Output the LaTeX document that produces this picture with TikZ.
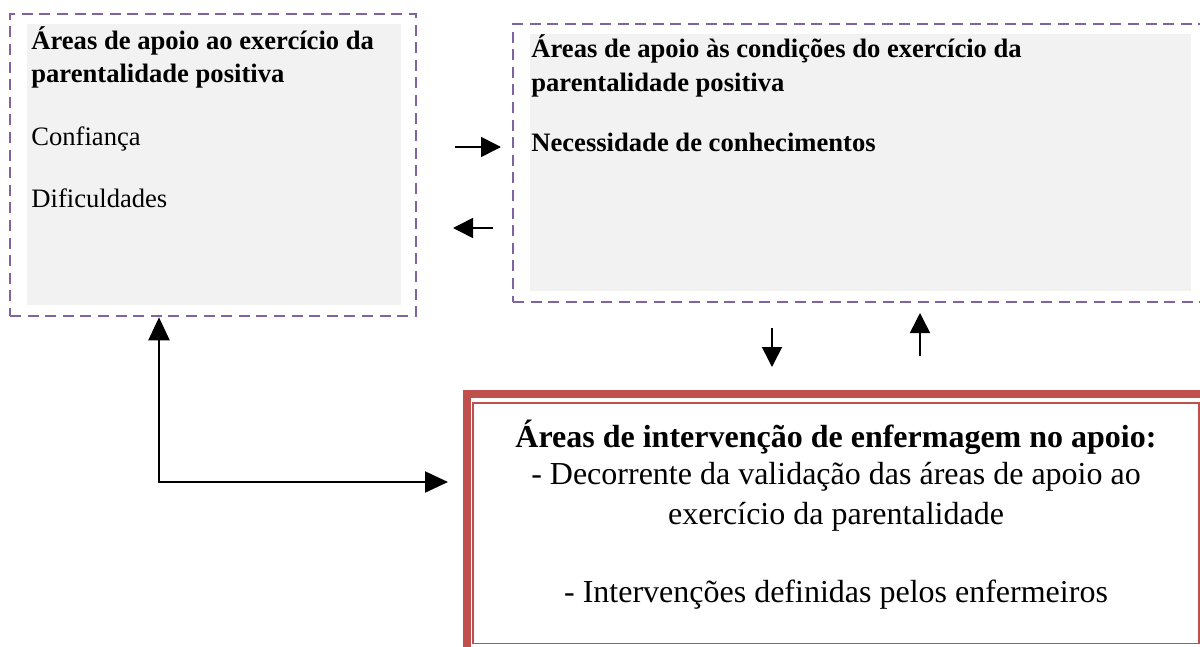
\documentclass[tikz,border=0pt]{standalone}
\usepackage{fontspec}
\setmainfont{Liberation Serif}
\usetikzlibrary{arrows.meta, positioning, fit}
\definecolor{boxPurple}{RGB}{128, 100, 162}
\definecolor{boxRed}{RGB}{192, 80, 77}
\definecolor{boxGray}{RGB}{242, 242, 242}
\tikzset{
    dashbox/.style={draw=boxPurple, line width=1.3pt, dash pattern=on 5.5pt off 3.3pt, inner sep=0pt},
    graybox/.style={fill=boxGray, inner sep=0pt},
    redbox/.style={draw=boxRed, inner sep=0pt},
    txt/.style={anchor=base west, inner sep=0pt, font=\fontsize{13.3}{16}\selectfont},
    bigtxt/.style={anchor=base, inner sep=0pt, font=\fontsize{16}{19}\selectfont},
    arr/.style={-{Triangle[length=10pt, width=10pt]}, line width=0.8pt},
    bigarr/.style={{Triangle[length=11.5pt, width=10.5pt]}-{Triangle[length=11.5pt, width=10.5pt]}, line width=1.1pt}
}

\begin{document}
\begin{tikzpicture}[x=0.5pt, y=-0.5pt]
    \clip (0,0) rectangle (1200,647);

    % left box: areas de apoio ao exercicio
    \node[graybox, fit={(27,24) (401,305)}] (apoioFill) {};
    \node[dashbox, fit={(10,14) (416,316)}] (apoio) {};
    \node[txt] (apoioTit1) at (31,50) {\textbf{Áreas de apoio ao exercício da}};
    \node[txt] (apoioTit2) at (31,83) {\textbf{parentalidade positiva}};
    \node[txt] (apoioConf) at (31,146) {Confiança};
    \node[txt] (apoioDif) at (31,207) {Dificuldades};

    % right box: areas de apoio as condicoes
    \node[graybox, fit={(530,34) (1191,291)}] (condFill) {};
    \node[dashbox, fit={(513,24) (1215,302)}] (cond) {};
    \node[txt] (condTit1) at (531,58) {\textbf{Áreas de apoio às condições do exercício da}};
    \node[txt] (condTit2) at (531,92) {\textbf{parentalidade positiva}};
    \node[txt] (condNec) at (531,152) {\textbf{Necessidade de conhecimentos}};

    % bottom box: intervencao de enfermagem
    \node[redbox, line width=4pt, fit={(466.5,394) (1220,660)}] (interv) {};
    \node[redbox, line width=0.75pt, fit={(473,403) (1199,643.5)}] (intervIn) {};
    \node[bigtxt] (intervTit) at (836,447) {\textbf{Áreas de intervenção de enfermagem no apoio:}};
    \node[bigtxt] (intervL1) at (836,484) {- Decorrente da validação das áreas de apoio ao};
    \node[bigtxt] (intervL2) at (836,524) {exercício da parentalidade};
    \node[bigtxt] (intervL3) at (836,602) {- Intervenções definidas pelos enfermeiros};

    % small arrows between the boxes
    \coordinate (dirIni) at (455,147);
    \coordinate (dirFim) at (501,147);
    \coordinate (esqIni) at (493,228);
    \coordinate (esqFim) at (453,228);
    \coordinate (baixoIni) at (772,328);
    \coordinate (baixoFim) at (772,367);
    \coordinate (cimaIni) at (920,356);
    \coordinate (cimaFim) at (920,313);
    \draw[arr] (dirIni) -- (dirFim);
    \draw[arr] (esqIni) -- (esqFim);
    \draw[arr] (baixoIni) -- (baixoFim);
    \draw[arr] (cimaIni) -- (cimaFim);

    % link from left box to the intervention box
    \coordinate (canto) at (159,482);
    \draw[bigarr, shorten >=7.25pt] (apoio.south -| canto) -- (canto) -- (canto -| interv.west);
\end{tikzpicture}
\end{document}
